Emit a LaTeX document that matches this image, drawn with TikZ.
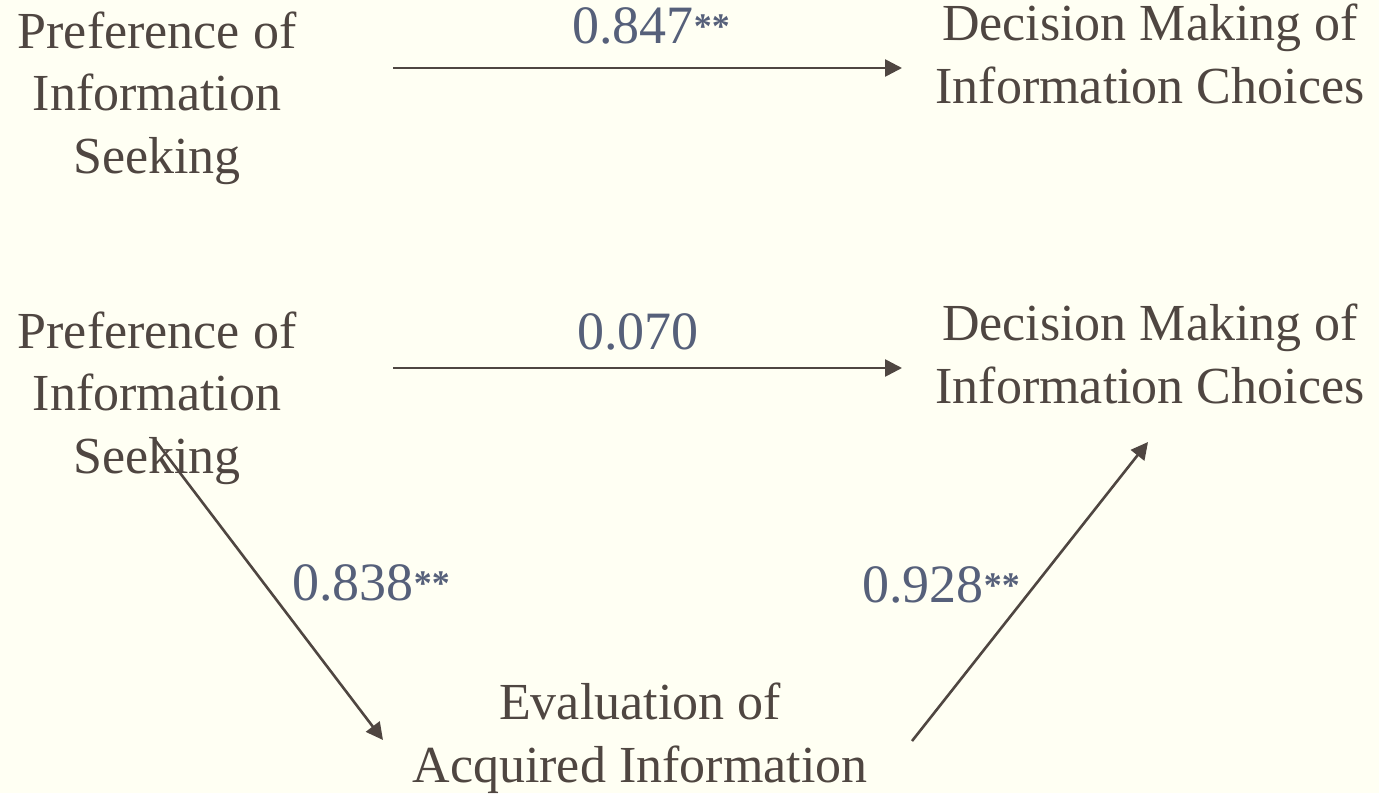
\documentclass[tikz,border=0pt]{standalone}
\usepackage{fontspec}
\setmainfont{Liberation Serif}
\usetikzlibrary{arrows.meta}
\definecolor{bg}{HTML}{FFFFF3}
\definecolor{txt}{HTML}{4F4641}
\definecolor{num}{HTML}{56607A}
\newcommand\sigstars{\raisebox{2.5pt}{\fontsize{18}{18}\selectfont\bfseries **}}
\begin{document}
\begin{tikzpicture}[x=0.5pt,y=-0.5pt,
  concept/.style={align=center, inner sep=0pt, anchor=base, text=txt, font=\fontsize{26}{31.25}\selectfont},
  coef/.style={inner sep=0pt, anchor=base west, text=num, font=\fontsize{27}{31}\selectfont},
  link/.style={draw=txt, line width=1.3pt, -{Triangle[length=8.5pt,width=8.5pt]}}]
\fill[bg] (0,0) rectangle (1379,793);
\useasboundingbox (0,0) rectangle (1379,793);
% nodes (anchor base = baseline of last line)
\node[concept] (pA) at (157,173) {Preference of\\Information\\Seeking};
\node[concept] (dA) at (1150,103) {Decision Making of\\Information Choices};
\node[concept] (pB) at (157,473) {Preference of\\Information\\Seeking};
\node[concept] (dB) at (1150,403) {Decision Making of\\Information Choices};
\node[concept] (ev) at (640,782) {Evaluation of\\Acquired Information};
% connector ends
\coordinate (a1s) at (393,68);  \coordinate (a1e) at (902,68);
\coordinate (a2s) at (393,368); \coordinate (a2e) at (902,368);
\coordinate (a3s) at (155,440); \coordinate (a3e) at (383,740);
\coordinate (a4s) at (912,741); \coordinate (a4e) at (1148,442);
\draw[link] (a1s) -- (a1e);
\draw[link] (a2s) -- (a2e);
\draw[link] (a3s) -- (a3e);
\draw[link] (a4s) -- (a4e);
% coefficients
\node[coef] (c1) at (572,43) {0.847\sigstars};
\node[coef] (c2) at (577,349) {0.070};
\node[coef] (c3) at (292,600) {0.838\sigstars};
\node[coef] (c4) at (862,602) {0.928\sigstars};
\end{tikzpicture}
\end{document}
